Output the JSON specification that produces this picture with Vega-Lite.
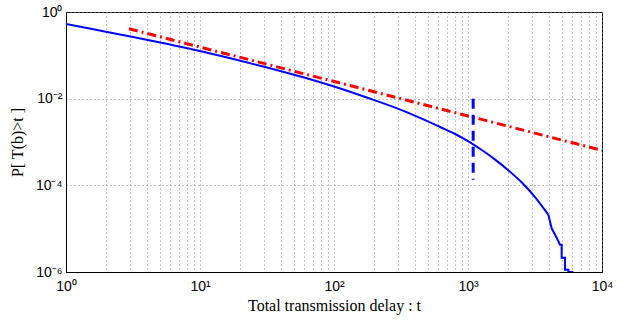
{
  "$schema": "https://vega.github.io/schema/vega-lite/v6.json",
  "width": 536,
  "height": 260,
  "autosize": "none",
  "padding": {"left": 66, "top": 12, "right": 26, "bottom": 48},
  "background": "white",
  "config": {
    "view": {"stroke": "black", "strokeWidth": 1},
    "axis": {
      "domainColor": "black",
      "tickColor": "black",
      "labelFont": "Liberation Sans",
      "labelFontSize": 14,
      "labelColor": "black",
      "titleFont": "Liberation Serif",
      "titleFontSize": 16,
      "titleFontWeight": "normal",
      "titleColor": "black",
      "gridColor": "#888",
      "gridDash": [1, 3],
      "gridWidth": 1
    }
  },
  "datasets": {
    "curve": [
      {"i": 0, "t": 1, "p": 0.53},
      {"i": 1, "t": 1.778, "p": 0.375},
      {"i": 2, "t": 3.162, "p": 0.2655},
      {"i": 3, "t": 5.623, "p": 0.1841},
      {"i": 4, "t": 10, "p": 0.1259},
      {"i": 5, "t": 17.78, "p": 0.0822},
      {"i": 6, "t": 31.62, "p": 0.0525},
      {"i": 7, "t": 56.23, "p": 0.0324},
      {"i": 8, "t": 100, "p": 0.01905},
      {"i": 9, "t": 177.8, "p": 0.01047},
      {"i": 10, "t": 316.2, "p": 0.0055},
      {"i": 11, "t": 446.7, "p": 0.00351},
      {"i": 12, "t": 631, "p": 0.002163},
      {"i": 13, "t": 794.3, "p": 0.001549},
      {"i": 14, "t": 1000, "p": 0.001047},
      {"i": 15, "t": 1259, "p": 0.000661},
      {"i": 16, "t": 1585, "p": 0.000398},
      {"i": 17, "t": 1995, "p": 0.000224},
      {"i": 18, "t": 2512, "p": 0.0001175},
      {"i": 19, "t": 3162, "p": 0.0000537},
      {"i": 20, "t": 3981, "p": 0.0000209}
    ],
    "tail": [
      {"i": 0, "t": 3981, "p": 0.0000209},
      {"i": 1, "t": 4210, "p": 0.0000102},
      {"i": 2, "t": 4590, "p": 0.00000617},
      {"i": 3, "t": 4860, "p": 0.00000427},
      {"i": 4, "t": 5000, "p": 0.00000427},
      {"i": 5, "t": 5000, "p": 0.00000214},
      {"i": 6, "t": 5300, "p": 0.00000214},
      {"i": 7, "t": 5300, "p": 0.00000112},
      {"i": 8, "t": 5610, "p": 0.00000112},
      {"i": 9, "t": 5610, "p": 0.000001},
      {"i": 10, "t": 6110, "p": 0.000001}
    ],
    "bound": [
      {"i": 0, "t": 2.95, "p": 0.41},
      {"i": 1, "t": 10000, "p": 0.00064}
    ],
    "cut": [
      {"i": 0, "t": 1093, "p": 0.01},
      {"i": 1, "t": 1093, "p": 0.000135}
    ]
  },
  "encoding": {
    "x": {
      "field": "t",
      "type": "quantitative",
      "scale": {"type": "log", "domain": [1, 10000], "nice": false},
      "axis": {
        "title": "Total transmission delay : t",
        "values": [1,2,3,4,5,6,7,8,9,10,20,30,40,50,60,70,80,90,100,200,300,400,500,600,700,800,900,1000,2000,3000,4000,5000,6000,7000,8000,9000,10000],
        "labelExpr": "datum.value == 1 ? '10⁰' : datum.value == 10 ? '10¹' : datum.value == 100 ? '10²' : datum.value == 1000 ? '10³' : datum.value == 10000 ? '10⁴' : ''",
        "grid": true,
        "tickSize": 0,
        "labelPadding": 7,
        "labelFlush": false,
        "labelOverlap": false,
        "titlePadding": 4
      }
    },
    "y": {
      "field": "p",
      "type": "quantitative",
      "scale": {"type": "log", "domain": [0.000001, 1], "nice": false},
      "axis": {
        "title": "P[ T(b)>t ]",
        "values": [0.000001, 0.0001, 0.01, 1],
        "labelExpr": "datum.value >= 0.5 ? '10⁰' : datum.value >= 0.005 ? '10⁻²' : datum.value >= 0.00005 ? '10⁻⁴' : '10⁻⁶'",
        "grid": true,
        "tickSize": 0,
        "labelPadding": 4,
        "labelFlush": false,
        "labelOverlap": false,
        "titlePadding": 10
      }
    },
    "order": {"field": "i", "type": "quantitative"}
  },
  "layer": [
    {
      "data": {"name": "curve"},
      "mark": {"type": "line", "color": "#0000ff", "strokeWidth": 2, "interpolate": "monotone", "clip": true}
    },
    {
      "data": {"name": "tail"},
      "mark": {"type": "line", "color": "#0000ff", "strokeWidth": 2, "clip": true}
    },
    {
      "data": {"name": "bound"},
      "mark": {"type": "line", "color": "#ff0000", "strokeWidth": 3, "strokeDash": [9, 4, 2, 4], "clip": true}
    },
    {
      "data": {"name": "cut"},
      "mark": {"type": "line", "color": "#0000ff", "strokeWidth": 3, "strokeDash": [10, 6], "clip": true}
    }
  ]
}
